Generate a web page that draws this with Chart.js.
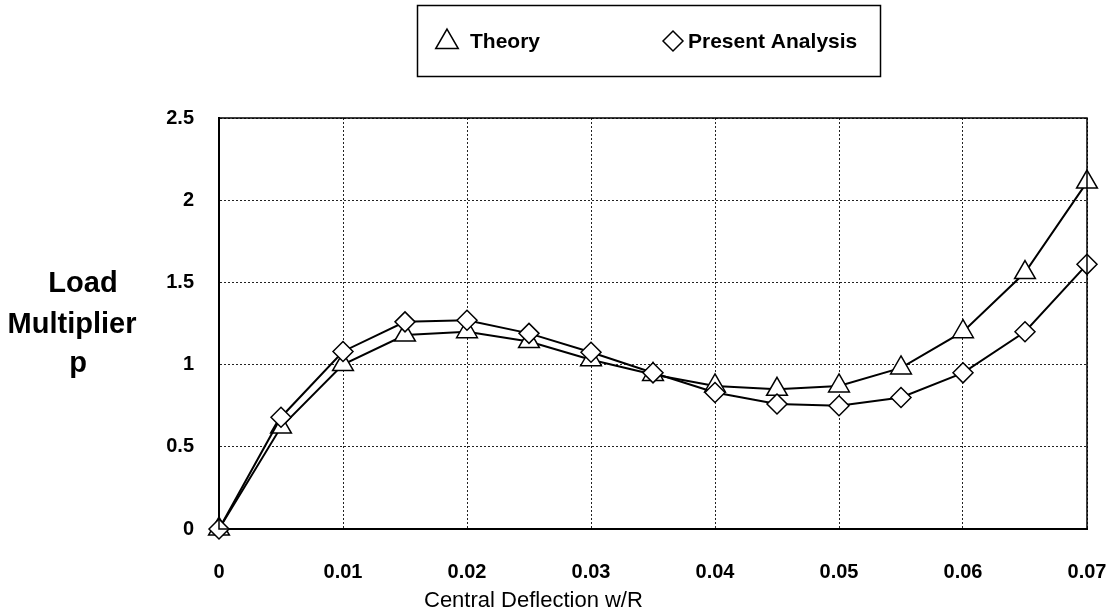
<!DOCTYPE html>
<html>
<head>
<meta charset="utf-8">
<script src="https://cdn.jsdelivr.net/npm/chart.js@4/dist/chart.umd.min.js"></script>
<style>
html,body{margin:0;padding:0;background:#fff;}
#wrap{width:1119px;height:613px;position:relative;}
</style>
</head>
<body>
<div id="wrap"><canvas id="c" width="1119" height="613"></canvas></div>
<script>
// ---- data ----
const deflection = [0, 0.005, 0.01, 0.015, 0.02, 0.025, 0.03, 0.035, 0.04, 0.045, 0.05, 0.055, 0.06, 0.065, 0.07];
const theory     = [0, 0.62, 1.00, 1.18, 1.20, 1.14, 1.03, 0.94, 0.87, 0.85, 0.87, 0.98, 1.20, 1.56, 2.11];
const present    = [0, 0.68, 1.08, 1.26, 1.27, 1.19, 1.075, 0.95, 0.83, 0.76, 0.75, 0.80, 0.95, 1.20, 1.61];
const seriesNames = ['Theory', 'Present Analysis'];
const xTickValues = [0, 0.01, 0.02, 0.03, 0.04, 0.05, 0.06, 0.07];
const xTickLabels = ['0', '0.01', '0.02', '0.03', '0.04', '0.05', '0.06', '0.07'];
const yTickValues = [0, 0.5, 1, 1.5, 2, 2.5];
const yTickLabels = ['0', '0.5', '1', '1.5', '2', '2.5'];
const xTitle = 'Central Deflection w/R';
const yTitleLines = ['Load', 'Multiplier', 'p'];

const FONT = '"Liberation Sans", Arial, Helvetica, sans-serif';

function pts(xs, ys) { return xs.map((x, i) => ({x: x, y: ys[i]})); }

function drawMarker(ctx, style, r, x, y) {
  ctx.save();
  ctx.fillStyle = '#fff';
  ctx.strokeStyle = '#000';
  ctx.lineWidth = 1.5;
  ctx.beginPath();
  if (style === 'triangle') {
    for (let k = 0; k < 3; k++) {
      const a = k * 2 * Math.PI / 3;
      const px = x + Math.sin(a) * r, py = y - Math.cos(a) * r;
      if (k === 0) ctx.moveTo(px, py); else ctx.lineTo(px, py);
    }
  } else {
    ctx.moveTo(x - r, y); ctx.lineTo(x, y - r); ctx.lineTo(x + r, y); ctx.lineTo(x, y + r);
  }
  ctx.closePath();
  ctx.fill();
  ctx.stroke();
  ctx.restore();
}

const decor = {
  id: 'decor',
  afterDraw(chart) {
    const ctx = chart.ctx, a = chart.chartArea;
    ctx.save();
    // plot frame
    ctx.strokeStyle = '#000';
    ctx.lineWidth = 1.5;
    ctx.strokeRect(a.left, a.top, a.right - a.left, a.bottom - a.top);
    // legend box
    ctx.lineWidth = 1.5;
    ctx.strokeRect(417.5, 5.5, 463, 71);
    drawMarker(ctx, 'triangle', 13, 447, 42);
    drawMarker(ctx, 'diamond', 10, 673, 41);
    ctx.fillStyle = '#000';
    ctx.font = 'bold 21px ' + FONT;
    ctx.textAlign = 'left';
    ctx.textBaseline = 'alphabetic';
    ctx.fillText(seriesNames[0], 470, 48);
    ctx.fillText(seriesNames[1], 688, 48);
    // y title
    ctx.font = 'bold 29px ' + FONT;
    ctx.textAlign = 'center';
    const yx = [83, 72, 78], yb = [292, 333, 372];
    yTitleLines.forEach((t, i) => ctx.fillText(t, yx[i], yb[i]));
    // x title
    ctx.font = '22px ' + FONT;
    ctx.textAlign = 'left';
    ctx.fillText(xTitle, 424, 607);
    ctx.restore();
  }
};

new Chart(document.getElementById('c'), {
  type: 'line',
  data: {
    datasets: [
      {
        label: seriesNames[0],
        data: pts(deflection, theory),
        borderColor: '#000', borderWidth: 2,
        pointStyle: 'triangle', pointRadius: 12, pointHoverRadius: 12,
        pointBackgroundColor: '#fff', pointBorderColor: '#000', pointBorderWidth: 1.5,
        tension: 0, clip: false, order: 2
      },
      {
        label: seriesNames[1],
        data: pts(deflection, present),
        borderColor: '#000', borderWidth: 2,
        pointStyle: 'rectRot', pointRadius: 10, pointHoverRadius: 10,
        pointBackgroundColor: '#fff', pointBorderColor: '#000', pointBorderWidth: 1.5,
        tension: 0, clip: false, order: 1
      }
    ]
  },
  options: {
    responsive: false,
    animation: false,
    devicePixelRatio: 1,
    layout: { padding: { top: 118, right: 32, bottom: 0, left: 0 } },
    plugins: { legend: { display: false }, tooltip: { enabled: false }, title: { display: false } },
    scales: {
      x: {
        type: 'linear', min: 0, max: 0.07,
        afterBuildTicks: s => { s.ticks = xTickValues.map(v => ({value: v})); },
        afterFit: s => { s.height = 84; s.paddingRight = 0; s.paddingLeft = 0; },
        grid: { color: '#222', lineWidth: 1, drawTicks: false },
        border: { display: true, color: '#000', width: 2, dash: [2, 2] },
        ticks: {
          padding: 31, color: '#000', maxRotation: 0, autoSkip: false,
          font: { family: FONT, size: 20, weight: 'bold' },
          callback: (v, i) => xTickLabels[i]
        }
      },
      y: {
        type: 'linear', min: 0, max: 2.5,
        afterBuildTicks: s => { s.ticks = yTickValues.map(v => ({value: v})); },
        afterFit: s => { s.width = 219; s.paddingTop = 0; s.paddingBottom = 0; },
        grid: { color: '#222', lineWidth: 1, drawTicks: false },
        border: { display: true, color: '#000', width: 2, dash: [2, 2] },
        ticks: {
          padding: 25, color: '#000',
          font: { family: FONT, size: 20, weight: 'bold' },
          callback: (v, i) => yTickLabels[i]
        }
      }
    }
  },
  plugins: [decor]
});
</script>
</body>
</html>
